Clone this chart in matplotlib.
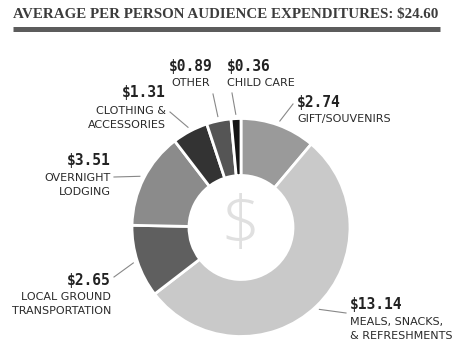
import matplotlib
matplotlib.use('Agg')
import matplotlib.pyplot as plt
import numpy as np

# 1人あたりの支出（時計回り、上から）
categories = ['GIFT/SOUVENIRS', 'MEALS, SNACKS,\n& REFRESHMENTS', 'LOCAL GROUND\nTRANSPORTATION',
              'OVERNIGHT\nLODGING', 'CLOTHING &\nACCESSORIES', 'OTHER', 'CHILD CARE']
amounts = [2.74, 13.14, 2.65, 3.51, 1.31, 0.89, 0.36]
colors = ['#9a9a9a', '#c9c9c9', '#5f5f5f', '#8b8b8b', '#333333', '#555555', '#141414']
total = 24.60

W, H = 460, 357
fig = plt.figure(figsize=(W / 100, H / 100), dpi=100)
ax = fig.add_axes([0, 0, 1, 1])


def fy(y):
    # 画像の上からのピクセル位置 -> 軸座標
    return H - y


cx, cy, R = 241, fy(227.5), 109
wedges, _ = ax.pie(amounts, colors=colors, startangle=90, counterclock=False,
                   center=(cx, cy), radius=R,
                   wedgeprops=dict(width=57, edgecolor='white', linewidth=2))
ax.set_xlim(0, W)
ax.set_ylim(0, H)
ax.set_aspect('equal')
ax.axis('off')

# タイトルと下線
ax.text(225.5, fy(14.5), r'AVERAGE PER PERSON AUDIENCE EXPENDITURES: \$%.2f' % total,
        ha='center', va='center', fontsize=10.8, fontweight='bold',
        family='Liberation Serif', color='#3c3c3c')
ax.plot([13, 440], [fy(28.5)] * 2, color='#5c5c5c', lw=3.6, solid_capstyle='butt')

# 中央の$マーク
ax.text(cx - 1, cy, r'\$', ha='center', va='center', fontsize=50,
        color='#e0e0e0', family=['Open Sans', 'DejaVu Sans'], fontweight='light')

# ラベル配置: (x, 値のy, ラベル中心y, ha, 引き出し線の始点x, y)
layout = [
    (297, 102.5, 119, 'left', 293, 104),
    (350, 304, 329, 'left', 346, 313),
    (111, 280, 304.5, 'right', 114, 277),
    (111, 161, 185.5, 'right', 114, 177),
    (166, 93, 118, 'right', 170, 112),
    (191, 67, 83.5, 'center', 213, 94),
    (227, 67, 83.5, 'left', 232, 93),
]

for w, cat, amt, (tx, vy, ly, ha, lx, lyy) in zip(wedges, categories, amounts, layout):
    ax.text(tx, fy(vy), r'\$%.2f' % amt, ha=ha, va='center', fontsize=10.5,
            fontweight='bold', family='DejaVu Sans Mono', color='#222222')
    ax.text(tx, fy(ly), cat, ha=ha, va='center', fontsize=8.0, linespacing=1.5,
            family='DejaVu Sans', color='#2a2a2a', multialignment=ha)
    mid = np.deg2rad((w.theta1 + w.theta2) / 2)
    tip = (cx + 1.04 * R * np.cos(mid), cy + 1.04 * R * np.sin(mid))
    ax.plot([lx, tip[0]], [fy(lyy), tip[1]], color='#888888', lw=0.8)

plt.savefig('out.png', dpi=100)
plt.close()
